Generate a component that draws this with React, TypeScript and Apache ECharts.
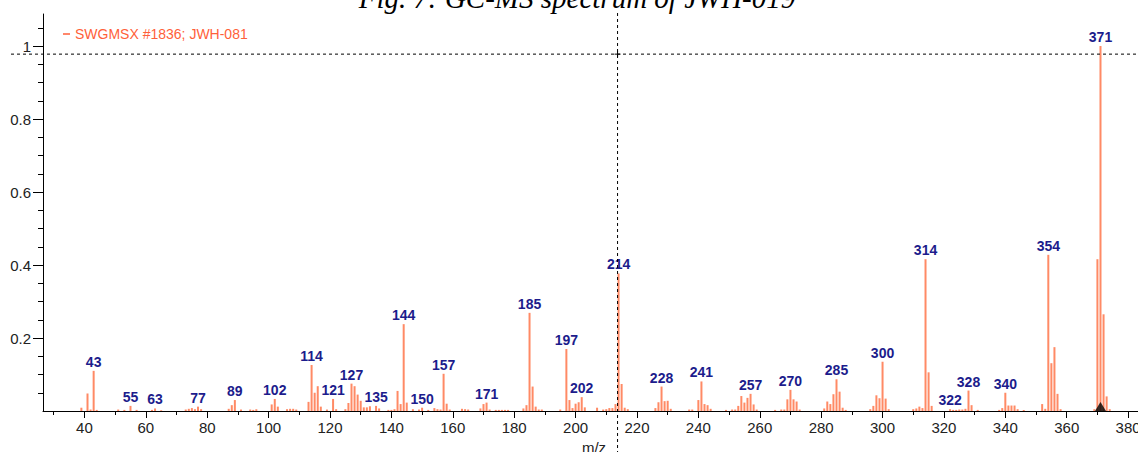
import React, { useEffect, useRef } from "react";
import * as echarts from "echarts";

const LEGEND_NAME = "SWGMSX #1836; JWH-081";
const TITLE = "Fig. 7: GC-MS spectrum of JWH-019";

const MZ = [
  39, 41, 42, 43, 44, 51, 53, 55, 57, 62, 63, 65, 73, 74, 75, 76, 77, 78, 87, 88, 89, 91, 94, 95, 96,
  101, 102, 103, 106, 107, 108, 109, 113, 114, 115, 116, 117, 119, 121, 122, 125, 126, 127, 128, 129,
  130, 131, 132, 133, 135, 136, 139, 140, 141, 142, 143, 144, 145, 147, 149, 150, 152, 154, 155, 156,
  157, 158, 159, 163, 164, 165, 169, 170, 171, 172, 174, 175, 176, 177, 178, 183, 184, 185, 186, 187,
  188, 189, 195, 197, 198, 199, 200, 201, 202, 203, 207, 209, 210, 211, 212, 213, 214, 215, 216, 217,
  226, 227, 228, 229, 230, 231, 237, 238, 240, 241, 242, 243, 244, 249, 251, 252, 253, 254, 255, 256,
  257, 258, 259, 265, 267, 268, 269, 270, 271, 272, 273, 281, 282, 283, 284, 285, 286, 287, 288, 296,
  297, 298, 299, 300, 301, 302, 310, 311, 312, 313, 314, 315, 316, 322, 323, 324, 325, 326, 327, 328,
  329, 331, 338, 339, 340, 341, 342, 343, 344, 346, 352, 353, 354, 355, 356, 357, 358, 369, 370, 371,
  372, 373, 374,
];

const INTENSITY = [
  0.009, 0.048, 0.004, 0.11, 0.003, 0.004, 0.003, 0.014, 0.003, 0.003, 0.007, 0.002, 0.004, 0.006, 0.008, 0.005, 0.012, 0.005, 0.006, 0.016, 0.03, 0.004, 0.004, 0.003, 0.005,
  0.018, 0.033, 0.012, 0.005, 0.006, 0.006, 0.004, 0.025, 0.126, 0.05, 0.068, 0.012, 0.004, 0.033, 0.005, 0.005, 0.022, 0.075, 0.068, 0.045,
  0.028, 0.01, 0.01, 0.013, 0.014, 0.007, 0.003, 0.003, 0.005, 0.055, 0.019, 0.238, 0.023, 0.005, 0.004, 0.009, 0.003, 0.008, 0.005, 0.004,
  0.102, 0.02, 0.004, 0.006, 0.005, 0.004, 0.007, 0.019, 0.023, 0.004, 0.003, 0.003, 0.003, 0.003, 0.003, 0.007, 0.016, 0.269, 0.067, 0.012,
  0.004, 0.004, 0.004, 0.17, 0.03, 0.008, 0.02, 0.024, 0.038, 0.01, 0.009, 0.004, 0.005, 0.008, 0.008, 0.019, 0.377, 0.074, 0.009, 0.005,
  0.008, 0.024, 0.067, 0.027, 0.028, 0.006, 0.004, 0.004, 0.03, 0.081, 0.019, 0.016, 0.006, 0.003, 0.004, 0.004, 0.014, 0.041, 0.023, 0.036,
  0.047, 0.018, 0.004, 0.003, 0.004, 0.004, 0.032, 0.058, 0.032, 0.026, 0.004, 0.007, 0.026, 0.019, 0.046, 0.087, 0.053, 0.009, 0.003, 0.005,
  0.014, 0.043, 0.035, 0.135, 0.034, 0.005, 0.005, 0.007, 0.012, 0.008, 0.416, 0.106, 0.014, 0.005, 0.003, 0.003, 0.004, 0.004, 0.006, 0.056,
  0.016, 0.003, 0.003, 0.008, 0.05, 0.015, 0.015, 0.015, 0.005, 0.003, 0.019, 0.006, 0.428, 0.131, 0.175, 0.047, 0.005, 0.005, 0.416, 1.0,
  0.265, 0.04, 0.005,
];

const LABELED_MZ = [
  43, 55, 63, 77, 89, 102, 114, 121, 127, 135, 144, 150, 157, 171, 185, 197, 202, 214, 228, 241, 257,
  270, 285, 300, 314, 322, 328, 340, 354, 371,
];

const X_LABELS = [40, 60, 80, 100, 120, 140, 160, 180, 200, 220, 240, 260, 280, 300, 320, 340, 360, 380];
const X_MINOR = [30, 50, 70, 90, 110, 130, 150, 170, 190, 210, 230, 250, 270, 290, 310, 330, 350, 370];
const Y_LABELS = [0.2, 0.4, 0.6, 0.8, 1];
const Y_MINOR = [0.05, 0.1, 0.15, 0.25, 0.3, 0.35, 0.45, 0.5, 0.55, 0.65, 0.7, 0.75, 0.85, 0.9, 0.95, 1.05];

const CURSOR_MZ = 214;
const CURSOR_Y = 0.978;
const MARKER_MZ = 371;

export default function App() {
  const ref = useRef<HTMLDivElement>(null);

  useEffect(() => {
    const chart = echarts.init(ref.current!, null, { renderer: "svg" });
    const font = "'Liberation Sans', Arial, sans-serif";

    const data = MZ.map((m, i) =>
      LABELED_MZ.includes(m)
        ? { value: [m, INTENSITY[i]], label: { show: true } }
        : { value: [m, INTENSITY[i]] }
    );

    chart.setOption({
      animation: false,
      grid: { left: 43, right: -7, top: 14, bottom: 41, containLabel: false, outerBoundsMode: "none" },
      legend: {
        left: 58,
        top: 22,
        data: [LEGEND_NAME],
        icon: "rect",
        itemWidth: 7,
        itemHeight: 1.5,
        selectedMode: false,
        itemStyle: { color: "#FF5F3A" },
        textStyle: { color: "#FF5F3A", fontSize: 14, fontFamily: font },
      },
      xAxis: [
        {
          type: "value",
          min: 26.5,
          max: 385.5,
          name: "m/z",
          nameLocation: "middle",
          nameGap: 26,
          nameTextStyle: { fontSize: 15, color: "#222", fontFamily: font },
          axisLine: { onZero: false, lineStyle: { color: "#000", width: 1 } },
          axisTick: { customValues: X_LABELS, length: 7, lineStyle: { color: "#000" } },
          axisLabel: { customValues: X_LABELS, fontSize: 15, color: "#222", margin: 9, fontFamily: font },
          splitLine: { show: false },
        },
        {
          type: "value",
          min: 26.5,
          max: 385.5,
          position: "bottom",
          axisLine: { show: false, onZero: false },
          axisTick: { customValues: X_MINOR, length: 4, lineStyle: { color: "#000" } },
          axisLabel: { show: false },
          splitLine: { show: false },
        },
      ],
      yAxis: [
        {
          type: "value",
          min: 0,
          max: 1.088,
          axisLine: { show: true, onZero: false, lineStyle: { color: "#000", width: 1 } },
          axisTick: { show: true, customValues: Y_LABELS, length: 10, lineStyle: { color: "#000" } },
          axisLabel: { customValues: Y_LABELS, fontSize: 15, color: "#222", margin: 12, fontFamily: font },
          splitLine: { show: false },
        },
        {
          type: "value",
          min: 0,
          max: 1.088,
          position: "left",
          axisLine: { show: false, onZero: false },
          axisTick: { show: true, customValues: Y_MINOR, length: 5, lineStyle: { color: "#000" } },
          axisLabel: { show: false },
          splitLine: { show: false },
        },
      ],
      series: [
        {
          type: "bar",
          name: LEGEND_NAME,
          data,
          barWidth: 2,
          itemStyle: { color: "#FF8A65" },
          label: {
            show: false,
            position: "top",
            distance: 2,
            formatter: (p: any) => String(p.value[0]),
            color: "#1C1C8C",
            fontWeight: "bold",
            fontSize: 14,
            fontFamily: font,
          },
        },
        {
          type: "scatter",
          data: [[MARKER_MZ, 0]],
          symbol: "triangle",
          symbolSize: [11, 9],
          symbolOffset: [0, -4.5],
          itemStyle: { color: "#000" },
          silent: true,
          clip: false,
          z: 5,
        },
      ],
    });

    const cx = chart.convertToPixel({ xAxisIndex: 0 }, CURSOR_MZ) as number;
    const cy = chart.convertToPixel({ yAxisIndex: 0 }, CURSOR_Y) as number;
    const dashed = { stroke: "#000", lineWidth: 1, lineDash: [3, 3] };
    const solid = { stroke: "#000", lineWidth: 1 };

    chart.setOption({
      graphic: [
        {
          type: "text",
          x: 577,
          y: -2.5,
          style: {
            text: TITLE,
            fontSize: 29,
            fontStyle: "italic",
            fontFamily: "'Liberation Serif', 'Times New Roman', serif",
            fill: "#000",
            textAlign: "center",
            textVerticalAlign: "middle",
          },
        },
        { type: "line", shape: { x1: 11, y1: cy, x2: 1138, y2: cy }, style: dashed, z: 10 },
        { type: "line", shape: { x1: cx - 1, y1: 13, x2: cx - 1, y2: 452 }, style: dashed, z: 10 },
        { type: "line", shape: { x1: cx - 4, y1: cy, x2: cx + 2, y2: cy }, style: solid, z: 10 },
        { type: "line", shape: { x1: cx - 1, y1: cy - 3, x2: cx - 1, y2: cy + 3 }, style: solid, z: 10 },
      ],
    });

    return () => chart.dispose();
  }, []);

  return (
    <div
      ref={ref}
      style={{ position: "absolute", left: 0, top: 0, width: 1138, height: 452, background: "#fff" }}
    />
  );
}
